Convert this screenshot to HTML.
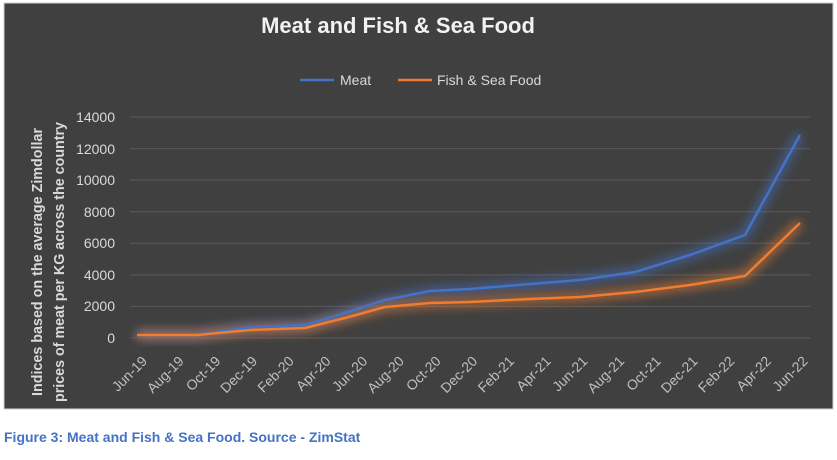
<!DOCTYPE html>
<html><head><style>
body{margin:0;background:#fff;width:837px;height:455px;overflow:hidden;font-family:"Liberation Sans",sans-serif}
</style></head><body>
<svg width="837" height="455" viewBox="0 0 837 455" xmlns="http://www.w3.org/2000/svg" font-family="Liberation Sans, sans-serif">
<defs>
<filter id="gb" x="-10%" y="-10%" width="120%" height="120%"><feGaussianBlur stdDeviation="5"/></filter>
</defs>
<rect x="4" y="3" width="829" height="406" fill="#404040" stroke="#d0d0d0" stroke-width="1"/>
<text x="398" y="33" fill="#f2f2f2" font-size="22" font-weight="bold" text-anchor="middle">Meat and Fish &amp; Sea Food</text>
<line x1="300" y1="80" x2="334" y2="80" stroke="#4472c4" stroke-width="2.5"/>
<text x="340" y="85" fill="#d9d9d9" font-size="14">Meat</text>
<line x1="398" y1="80" x2="432" y2="80" stroke="#ed7d31" stroke-width="2.5"/>
<text x="437" y="85" fill="#d9d9d9" font-size="14">Fish &amp; Sea Food</text>
<g stroke="#5a5a5a" stroke-width="1">
<line x1="130" y1="117" x2="810" y2="117"/><line x1="130" y1="148.6" x2="810" y2="148.6"/>
<line x1="130" y1="180.1" x2="810" y2="180.1"/><line x1="130" y1="211.7" x2="810" y2="211.7"/>
<line x1="130" y1="243.3" x2="810" y2="243.3"/><line x1="130" y1="274.9" x2="810" y2="274.9"/>
<line x1="130" y1="306.4" x2="810" y2="306.4"/><line x1="130" y1="338" x2="810" y2="338"/>
</g>
<g fill="#d9d9d9" font-size="14" text-anchor="end">
<text x="115" y="122">14000</text><text x="115" y="154">12000</text><text x="115" y="185">10000</text>
<text x="115" y="217">8000</text><text x="115" y="248">6000</text><text x="115" y="280">4000</text>
<text x="115" y="311">2000</text><text x="115" y="343">0</text>
</g>
<g fill="#d9d9d9" font-size="14.5" font-weight="bold" text-anchor="middle">
<text transform="translate(42,262) rotate(-90)" textLength="268" lengthAdjust="spacingAndGlyphs">Indices based on the average Zimdollar</text>
<text transform="translate(64,262) rotate(-90)" textLength="280" lengthAdjust="spacingAndGlyphs">prices of meat per KG across the country</text>
</g>
<g fill="none" stroke-linejoin="round">
<polyline filter="url(#gb)" stroke="#4472c4" stroke-opacity="0.6" stroke-width="9" points="137,335 197,335 250,327 305,325 345,313 385,300 430,291 470,289 530,284 580,280 635,272 690,255 745,235 800,135"/>
<polyline filter="url(#gb)" stroke="#ed7d31" stroke-opacity="0.6" stroke-width="9" points="137,335 197,335 250,330 305,328 345,318 385,307 430,303 470,302 530,299 580,297 635,292 690,285 745,276 800,223"/>
<polyline stroke="#4472c4" stroke-width="2.5" points="137,335 197,335 250,327 305,325 345,313 385,300 430,291 470,289 530,284 580,280 635,272 690,255 745,235 800,135"/>
<polyline stroke="#ed7d31" stroke-width="2.5" points="137,335 197,335 250,330 305,328 345,318 385,307 430,303 470,302 530,299 580,297 635,292 690,285 745,276 800,223"/>
</g>
<g fill="#bfbfbf" font-size="14" text-anchor="end">
<text transform="translate(148,362) rotate(-45)">Jun-19</text>
<text transform="translate(184.7,362) rotate(-45)">Aug-19</text>
<text transform="translate(221.4,362) rotate(-45)">Oct-19</text>
<text transform="translate(258.1,362) rotate(-45)">Dec-19</text>
<text transform="translate(294.8,362) rotate(-45)">Feb-20</text>
<text transform="translate(331.5,362) rotate(-45)">Apr-20</text>
<text transform="translate(368.2,362) rotate(-45)">Jun-20</text>
<text transform="translate(404.9,362) rotate(-45)">Aug-20</text>
<text transform="translate(441.6,362) rotate(-45)">Oct-20</text>
<text transform="translate(478.3,362) rotate(-45)">Dec-20</text>
<text transform="translate(515,362) rotate(-45)">Feb-21</text>
<text transform="translate(551.7,362) rotate(-45)">Apr-21</text>
<text transform="translate(588.4,362) rotate(-45)">Jun-21</text>
<text transform="translate(625.1,362) rotate(-45)">Aug-21</text>
<text transform="translate(661.8,362) rotate(-45)">Oct-21</text>
<text transform="translate(698.5,362) rotate(-45)">Dec-21</text>
<text transform="translate(735.2,362) rotate(-45)">Feb-22</text>
<text transform="translate(771.9,362) rotate(-45)">Apr-22</text>
<text transform="translate(808.6,362) rotate(-45)">Jun-22</text>
</g>
<text x="4" y="442" fill="#4472c4" font-size="14" font-weight="bold">Figure 3: Meat and Fish &amp; Sea Food. Source - ZimStat</text>
</svg>
</body></html>
